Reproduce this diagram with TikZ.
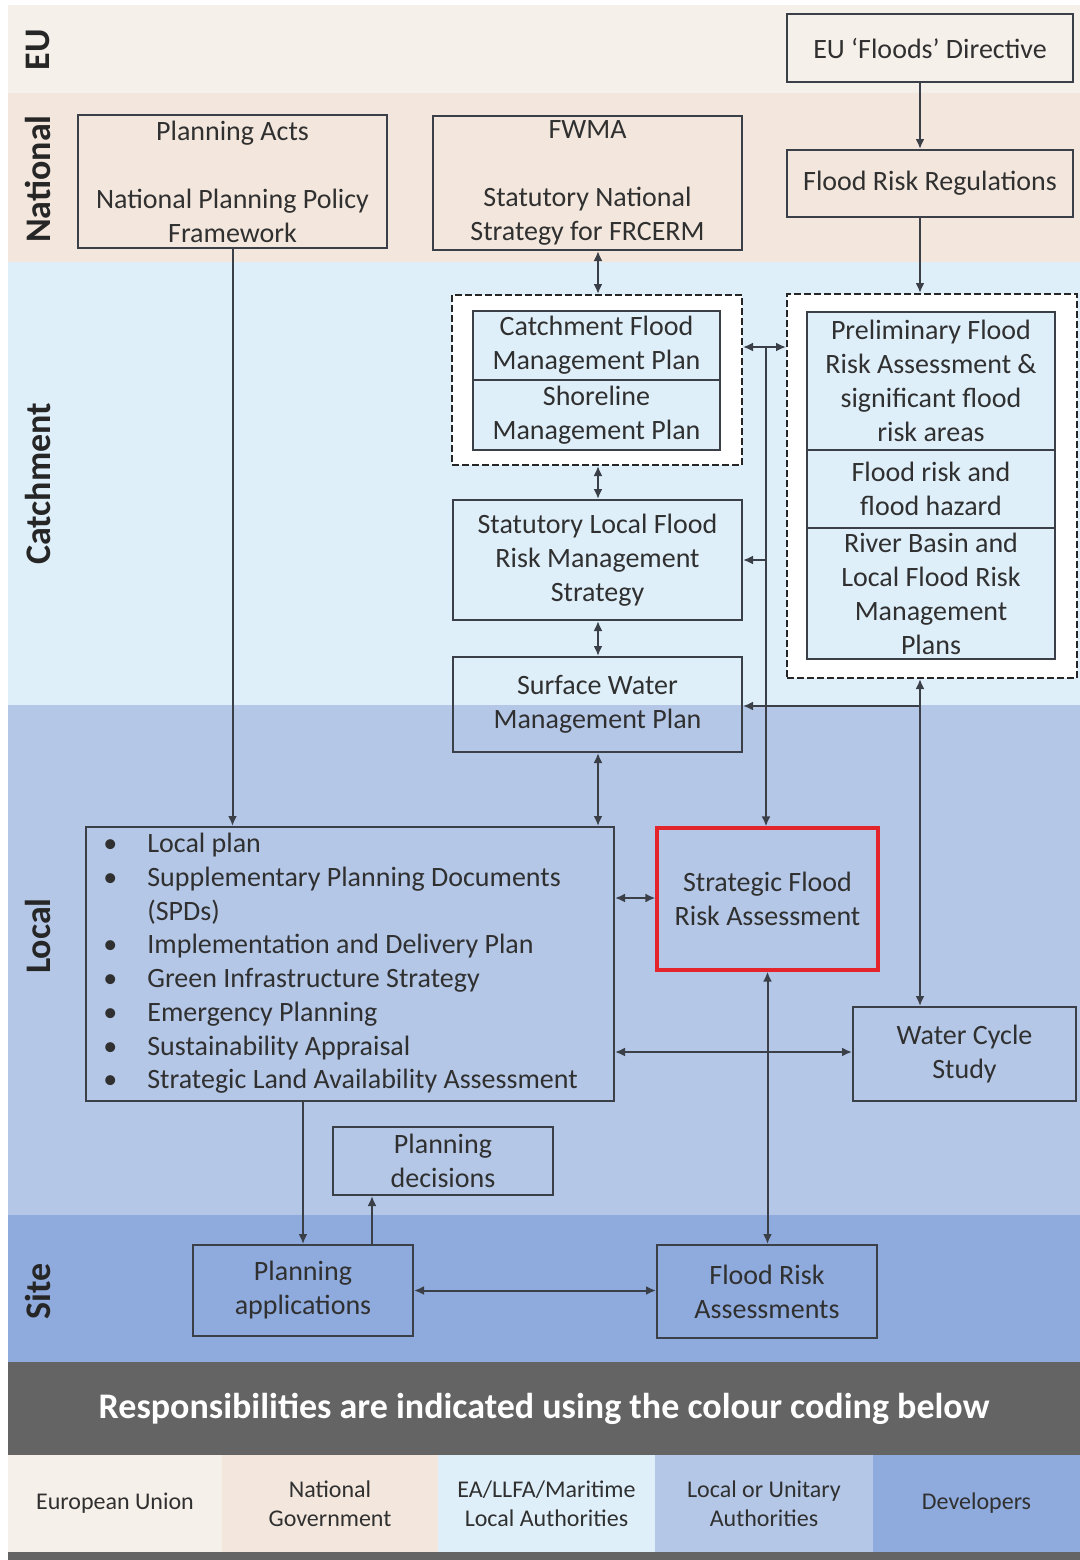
\documentclass[tikz,border=0pt]{standalone}
\usepackage{fontspec}
\setmainfont{Carlito}
\usetikzlibrary{arrows.meta}
\definecolor{bandEU}{HTML}{F6F0EA}
\definecolor{bandNat}{HTML}{F3E7DD}
\definecolor{bandCat}{HTML}{DEEFFA}
\definecolor{bandLoc}{HTML}{B4C7E7}
\definecolor{bandSite}{HTML}{8FAADC}
\definecolor{banner}{HTML}{646464}
\definecolor{ink}{HTML}{3A3F48}
\definecolor{txt}{HTML}{303030}
\definecolor{sfrared}{HTML}{E3242B}
\begin{document}
\begin{tikzpicture}[x=0.5pt,y=-0.5pt,
  rect/.style n args={4}{at={({(#1+#3)/2},{(#2+#4)/2})},minimum width={(#3-#1)*0.5pt},minimum height={(#4-#2)*0.5pt}},
  box/.style={draw=ink,line width=1pt,inner sep=0pt,align=center,text=txt,font=\fontsize{14}{17}\selectfont},
  grp/.style={draw=black!85,fill=white,line width=1pt,dash pattern=on 3.5pt off 1.5pt,inner sep=0pt},
  arr/.style={draw=ink,line width=1pt,-{Latex[length=5pt,width=4.5pt]}},
  darr/.style={draw=ink,line width=1pt,{Latex[length=5pt,width=4.5pt]}-{Latex[length=5pt,width=4.5pt]}},
  bandlbl/.style={font=\fontsize{18}{20}\selectfont\bfseries,text=black!85,rotate=90},
  leg/.style={inner sep=0pt,align=center,text=txt,font=\fontsize{12}{14.5}\selectfont}]
\useasboundingbox (0,0) rectangle (1080,1560);
\fill[white] (0,0) rectangle (1080,1560);
% bands
\fill[bandEU] (8,5) rectangle (1080,93);
\fill[bandNat] (8,93) rectangle (1080,262);
\fill[bandCat] (8,262) rectangle (1080,705);
\fill[bandLoc] (8,705) rectangle (1080,1215);
\fill[bandSite] (8,1215) rectangle (1080,1362);
\fill[banner] (8,1552) rectangle (1080,1560);
% band labels
\node[bandlbl] (lblEU) at (38,50) {EU};
\node[bandlbl] (lblNat) at (38,179) {National};
\node[bandlbl] (lblCat) at (38,484) {Catchment};
\node[bandlbl] (lblLoc) at (38,936) {Local};
\node[bandlbl] (lblSite) at (38,1291) {Site};
% boxes
\node[box,rect={78}{115}{387}{248}] (acts) {Planning Acts\\[17pt]National Planning Policy\\Framework};
\node[box,rect={433}{116}{742}{250}] (fwma) {FWMA\\[17pt]Statutory National\\Strategy for FRCERM};
\node[box,rect={787}{14}{1073}{82}] (eu) {EU ‘Floods’ Directive};
\node[box,rect={787}{150}{1073}{217}] (frr) {Flood Risk Regulations};
\node[grp,rect={452}{295}{742}{465}] (lgrp) {};
\node[box,fill=bandCat,rect={473}{311}{720}{380}] (cfmp) {Catchment Flood\\Management Plan};
\node[box,fill=bandCat,rect={473}{380}{720}{450}] (smp) {Shoreline\\Management Plan};
\node[grp,rect={787}{294}{1077}{678}] (rgrp) {};
\node[box,fill=bandCat,rect={807}{312}{1055}{450}] (pfra) {Preliminary Flood\\Risk Assessment \&\\significant flood\\risk areas};
\node[box,fill=bandCat,rect={807}{450}{1055}{528}] (frfh) {Flood risk and\\flood hazard};
\node[box,fill=bandCat,rect={807}{528}{1055}{659}] (rbmp) {River Basin and\\Local Flood Risk\\Management\\Plans};
\node[box,rect={453}{500}{742}{620}] (lfrms) {Statutory Local Flood\\Risk Management\\Strategy};
\node[box,rect={453}{657}{742}{752}] (swmp) {Surface Water\\Management Plan};
\node[box,rect={86}{827}{614}{1101}] (lp) {};
\node[anchor=west,inner sep=0pt,text=txt,font=\fontsize{14}{16.86}\selectfont] (lplist) at (103,964)
  {\begin{tabular}{@{}p{22pt}@{}l@{}}
   \textbullet & Local plan\\
   \textbullet & Supplementary Planning Documents\\
               & (SPDs)\\
   \textbullet & Implementation and Delivery Plan\\
   \textbullet & Green Infrastructure Strategy\\
   \textbullet & Emergency Planning\\
   \textbullet & Sustainability Appraisal\\
   \textbullet & Strategic Land Availability Assessment
   \end{tabular}};
\node[box,draw=sfrared,line width=1.6pt,rect={657}{828}{878}{970}] (sfra) {Strategic Flood\\Risk Assessment};
\node[box,rect={853}{1007}{1076}{1101}] (wcs) {Water Cycle\\Study};
\node[box,rect={333}{1127}{553}{1195}] (pd) {Planning\\decisions};
\node[box,rect={193}{1245}{413}{1336}] (pa) {Planning\\applications};
\node[box,rect={657}{1245}{877}{1338}] (fra) {Flood Risk\\Assessments};
% banner and legend
\node[fill=banner,inner sep=0pt,rect={8}{1362}{1080}{1455},text=white,font=\fontsize{18}{20}\selectfont\bfseries] (ban) {Responsibilities are indicated using the colour coding below};
\node[leg,fill=bandEU,rect={8}{1455}{222}{1552}] (legEU) {European Union};
\node[leg,fill=bandNat,rect={222}{1455}{438}{1552}] (legNat) {National\\Government};
\node[leg,fill=bandCat,rect={438}{1455}{655}{1552}] (legCat) {EA/LLFA/Maritime\\Local Authorities};
\node[leg,fill=bandLoc,rect={655}{1455}{873}{1552}] (legLoc) {Local or Unitary\\Authorities};
\node[leg,fill=bandSite,rect={873}{1455}{1080}{1552}] (legDev) {Developers};
% helper coordinates
\coordinate (c920) at (920,0);
\coordinate (c598) at (598,0);
\coordinate (c372) at (372,0);
\coordinate (r898) at (0,898);
\coordinate (r1052) at (0,1052);
\coordinate (j1) at (766,347);
\coordinate (j2) at (920,706);
% connectors
\draw[arr] (c920 |- eu.south) -- (c920 |- frr.north);
\draw[arr] (c920 |- frr.south) -- (c920 |- rgrp.north);
\draw[darr] (c598 |- fwma.south) -- (c598 |- lgrp.north);
\draw[darr] (c598 |- lgrp.south) -- (c598 |- lfrms.north);
\draw[darr] (c598 |- lfrms.south) -- (c598 |- swmp.north);
\draw[darr] (c598 |- swmp.south) -- (c598 |- lp.north);
\draw[darr] (lgrp.east |- j1) -- (rgrp.west |- j1);
\draw[arr] (j1) -- (j1 |- sfra.north);
\draw[arr] (j1 |- lfrms.east) -- (lfrms.east);
\draw[darr] (c920 |- rgrp.south) -- (c920 |- wcs.north);
\draw[arr] (j2) -- (swmp.east |- j2);
\draw[arr] (acts.south) -- (acts.south |- lp.north);
\draw[darr] (lp.east |- r898) -- (sfra.west |- r898);
\draw[darr] (lp.east |- r1052) -- (wcs.west |- r1052);
\draw[darr] (sfra.south) -- (sfra.south |- fra.north);
\draw[arr] (pa.north |- lp.south) -- (pa.north);
\draw[arr] (c372 |- pa.north) -- (c372 |- pd.south);
\draw[darr] (pa.east) -- (fra.west |- pa.east);
\end{tikzpicture}
\end{document}
